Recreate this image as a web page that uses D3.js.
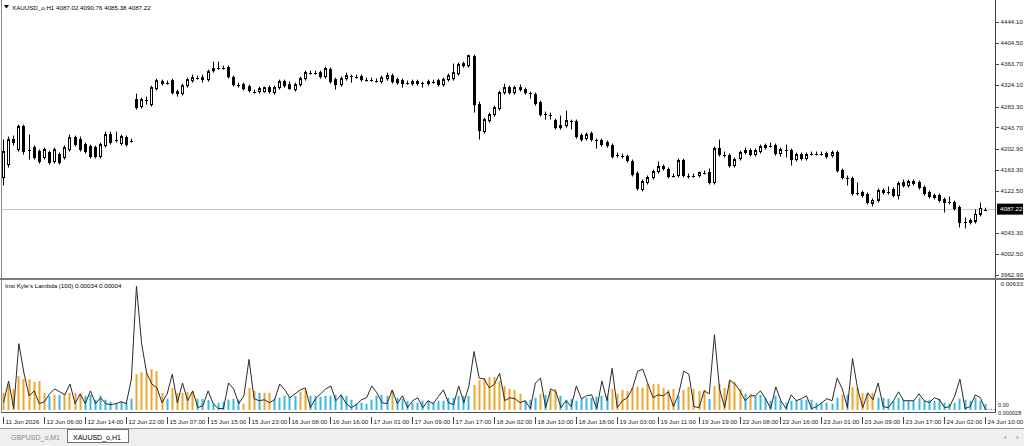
<!DOCTYPE html>
<html><head><meta charset="utf-8">
<script src="https://cdn.jsdelivr.net/npm/d3@7"></script>
<style>html,body{margin:0;padding:0;background:#fff;}svg{display:block;font-family:"Liberation Sans",Arial,sans-serif;}</style>
</head><body><svg id="c" width="1024" height="446"></svg>
<script>
// ---------- DATA ----------
const opens = [4148.3,4173.0,4220.5,4201.5,4245.2,4201.5,4205.3,4197.7,4186.3,4195.8,
4178.7,4192.0,4186.3,4201.5,4224.3,4220.5,4211.0,4207.2,4205.3,4188.2,
4209.1,4230.0,4220.5,4212.9,4224.3,4218.6,4296.5,4283.2,4296.5,4287.0,
4317.4,4330.7,4328.8,4332.6,4311.7,4307.9,4323.1,4332.6,4338.3,4338.3,
4334.5,4351.6,4357.3,4357.3,4357.3,4338.3,4325.0,4325.0,4321.2,4311.7,
4311.7,4311.7,4319.3,4309.8,4319.3,4330.7,4325.0,4315.5,4325.0,4336.4,
4347.8,4347.8,4347.8,4340.2,4353.5,4334.5,4325.0,4336.4,4342.1,4340.2,
4340.2,4334.5,4334.5,4332.6,4330.7,4336.4,4342.1,4334.5,4332.6,4328.8,
4326.9,4330.7,4328.8,4326.9,4330.7,4332.6,4325.0,4334.5,4336.4,4345.9,
4364.9,4361.1,4378.2,4287.0,4235.7,4256.6,4268.0,4279.4,4309.8,4319.3,
4309.8,4319.3,4315.5,4309.8,4306.0,4290.8,4269.9,4268.0,4256.6,4243.3,
4247.1,4256.6,4254.7,4228.1,4222.4,4231.9,4220.5,4218.6,4214.8,4209.1,
4192.0,4190.1,4188.2,4178.7,4155.9,4125.5,4138.8,4148.3,4159.7,4169.2,
4163.5,4152.1,4152.1,4180.6,4152.1,4152.1,4152.1,4157.8,4157.8,4138.8,
4203.4,4192.0,4190.1,4171.1,4184.4,4195.8,4199.6,4192.0,4197.7,4205.3,
4209.1,4209.1,4193.9,4201.5,4199.6,4182.5,4192.0,4184.4,4193.9,4193.9,
4193.9,4193.9,4190.1,4195.8,4161.6,4148.3,4146.4,4119.8,4119.8,4116.0,
4098.9,4104.6,4123.6,4121.7,4125.5,4114.1,4138.8,4133.1,4140.7,4138.8,
4129.3,4119.8,4114.1,4114.1,4106.5,4100.8,4100.8,4091.3,4062.8,4062.8,
4064.7,4078.0,4087.02];
const highs = [4220.5,4226.2,4228.1,4249.0,4249.0,4230.0,4209.1,4201.5,4205.3,4199.6,
4205.3,4195.8,4209.1,4230.0,4228.1,4226.2,4214.8,4211.0,4209.1,4214.8,
4235.7,4235.7,4235.7,4230.0,4228.1,4222.4,4307.9,4300.3,4302.2,4323.1,
4336.4,4334.5,4332.6,4336.4,4315.5,4326.9,4338.3,4344.0,4342.1,4344.0,
4353.5,4368.7,4368.7,4361.1,4361.1,4342.1,4328.8,4328.8,4325.0,4315.5,
4321.2,4321.2,4323.1,4323.1,4334.5,4334.5,4330.7,4328.8,4340.2,4351.6,
4351.6,4351.6,4351.6,4359.2,4357.3,4338.3,4340.2,4347.8,4344.0,4344.0,
4344.0,4338.3,4338.3,4336.4,4342.1,4347.8,4345.9,4338.3,4336.4,4332.6,
4334.5,4334.5,4330.7,4334.5,4334.5,4336.4,4338.3,4345.9,4364.9,4366.8,
4368.7,4382.0,4382.0,4292.7,4262.3,4271.8,4285.1,4313.6,4326.9,4323.1,
4323.1,4325.0,4319.3,4311.7,4309.8,4294.6,4273.7,4271.8,4260.4,4266.1,
4275.6,4258.5,4258.5,4231.9,4233.8,4235.7,4222.4,4222.4,4218.6,4212.9,
4195.8,4193.9,4192.0,4182.5,4159.7,4144.5,4152.1,4163.5,4178.7,4173.0,
4167.3,4155.9,4184.4,4184.4,4155.9,4155.9,4159.7,4161.6,4165.4,4207.2,
4220.5,4197.7,4193.9,4186.3,4199.6,4205.3,4203.4,4203.4,4211.0,4212.9,
4214.8,4212.9,4205.3,4211.0,4203.4,4195.8,4195.8,4195.8,4197.7,4197.7,
4197.7,4197.7,4199.6,4199.6,4165.4,4152.1,4150.2,4138.8,4123.6,4119.8,
4108.4,4127.4,4127.4,4131.2,4129.3,4140.7,4144.5,4144.5,4144.5,4142.6,
4133.1,4123.6,4117.9,4117.9,4110.3,4112.2,4104.6,4095.1,4072.3,4070.4,
4087.5,4100.8,4090.76];
const lows = [4133.1,4167.3,4209.1,4197.7,4192.0,4182.5,4182.5,4174.9,4182.5,4173.0,
4174.9,4173.0,4182.5,4197.7,4207.2,4197.7,4193.9,4184.4,4184.4,4184.4,
4205.3,4211.0,4214.8,4209.1,4207.2,4214.8,4277.5,4279.4,4287.0,4283.2,
4313.6,4323.1,4325.0,4306.0,4302.2,4304.1,4319.3,4328.8,4334.5,4328.8,
4330.7,4347.8,4353.5,4353.5,4336.4,4321.2,4319.3,4313.6,4309.8,4307.9,
4307.9,4309.8,4307.9,4306.0,4315.5,4319.3,4315.5,4311.7,4321.2,4332.6,
4344.0,4344.0,4336.4,4336.4,4326.9,4315.5,4321.2,4332.6,4328.8,4336.4,
4330.7,4330.7,4330.7,4328.8,4326.9,4332.6,4326.9,4325.0,4319.3,4325.0,
4323.1,4323.1,4319.3,4323.1,4326.9,4321.2,4321.2,4330.7,4332.6,4342.1,
4357.3,4357.3,4271.8,4220.5,4231.9,4252.8,4264.2,4275.6,4306.0,4306.0,
4306.0,4311.7,4306.0,4298.4,4285.1,4264.2,4258.5,4258.5,4239.5,4239.5,
4243.3,4239.5,4222.4,4216.7,4218.6,4216.7,4203.4,4207.2,4205.3,4184.4,
4186.3,4184.4,4176.8,4150.2,4123.6,4121.7,4135.0,4144.5,4155.9,4161.6,
4146.4,4148.3,4148.3,4148.3,4146.4,4148.3,4148.3,4154.0,4135.0,4135.0,
4188.2,4186.3,4167.3,4167.3,4180.6,4192.0,4188.2,4188.2,4193.9,4201.5,
4205.3,4190.1,4188.2,4186.3,4171.1,4178.7,4180.6,4180.6,4190.1,4190.1,
4190.1,4184.4,4186.3,4157.8,4144.5,4133.1,4114.1,4114.1,4110.3,4097.0,
4093.2,4100.8,4116.0,4116.0,4110.3,4106.5,4129.3,4129.3,4133.1,4125.5,
4114.1,4108.4,4106.5,4100.8,4081.8,4097.0,4085.6,4053.3,4051.4,4059.0,
4060.9,4074.2,4085.38];
const closes = [4197.7,4220.5,4214.8,4245.2,4197.7,4201.5,4186.3,4178.7,4201.5,4176.8,
4201.5,4176.8,4205.3,4224.3,4211.0,4201.5,4197.7,4188.2,4188.2,4211.0,
4230.0,4214.8,4220.5,4226.2,4211.0,4218.6,4281.3,4296.5,4296.5,4319.3,
4332.6,4326.9,4328.8,4309.8,4307.9,4323.1,4334.5,4338.3,4338.3,4334.5,
4349.7,4355.4,4357.3,4357.3,4340.2,4325.0,4325.0,4317.4,4313.6,4311.7,
4317.4,4319.3,4311.7,4319.3,4330.7,4323.1,4317.4,4325.0,4336.4,4347.8,
4347.8,4347.8,4340.2,4355.4,4330.7,4325.0,4336.4,4342.1,4342.1,4340.2,
4334.5,4334.5,4334.5,4332.6,4338.3,4342.1,4330.7,4328.8,4326.9,4328.8,
4330.7,4326.9,4328.8,4330.7,4330.7,4325.0,4334.5,4342.1,4347.8,4363.0,
4361.1,4380.1,4287.0,4237.6,4258.5,4268.0,4281.3,4309.8,4319.3,4309.8,
4319.3,4315.5,4309.8,4309.8,4288.9,4268.0,4269.9,4268.0,4243.3,4247.1,
4256.6,4256.6,4226.2,4220.5,4230.0,4220.5,4220.5,4211.0,4209.1,4188.2,
4192.0,4190.1,4180.6,4154.0,4127.4,4140.7,4148.3,4159.7,4169.2,4165.4,
4150.2,4152.1,4180.6,4152.1,4152.1,4152.1,4157.8,4157.8,4138.8,4203.4,
4192.0,4192.0,4171.1,4182.5,4195.8,4199.6,4192.0,4199.6,4207.2,4209.1,
4209.1,4193.9,4201.5,4201.5,4182.5,4192.0,4184.4,4192.0,4193.9,4193.9,
4193.9,4188.2,4195.8,4161.6,4148.3,4148.3,4117.9,4119.8,4114.1,4100.8,
4104.6,4123.6,4119.8,4121.7,4114.1,4136.9,4133.1,4140.7,4136.9,4129.3,
4117.9,4112.2,4110.3,4104.6,4100.8,4100.8,4089.4,4062.8,4062.8,4066.6,
4078.0,4089.4,4087.22];

// indicator values, in units of 0.00001
const lambdaHist = [90,130,110,175,160,160,145,150,90,75,
80,80,85,90,90,85,75,80,55,75,
55,45,35,45,40,60,185,195,190,210,
200,90,60,115,90,90,95,95,60,60,
55,35,40,45,55,60,55,35,115,100,
90,90,90,60,65,75,70,75,95,105,
75,75,70,75,75,80,75,75,55,35,
40,35,55,75,80,75,100,65,60,50,
40,40,50,50,40,50,50,65,65,75,
75,75,130,155,165,170,170,150,125,110,
105,85,50,55,65,85,80,100,110,75,
55,60,50,60,65,65,70,75,75,110,
85,105,100,115,120,115,135,135,135,115,
105,110,75,105,120,110,100,105,60,125,
135,115,150,145,110,85,85,75,80,65,
50,75,50,40,50,55,55,55,55,40,
40,40,35,65,80,80,120,115,90,85,
90,65,65,60,50,65,55,50,50,65,
50,55,50,60,40,35,40,60,55,50,
65,50,34];
const histSide = ("ooooooooob"+"oboooobbbb"+"bbbbbboooo"+"oobooooobb"+"bbbbbbbooo"+
"boobbbbboo"+"bbbbbbbbbb"+"bbbbbbobbb"+"bbbbbbbbbb"+"bboooooooo"+
"oobbboboob"+"bbbbbbbbbo"+"oooooooooo"+"oobooooobo"+"ooooobobbb"+
"bbbbbbbbbb"+"bbbboboooo"+"obbbbbbbbb"+"bbbbbbbbbb"+"bbb").split("");
const lambdaLine = [40,150,10,340,190,75,100,35,45,85,
110,95,80,135,35,85,35,100,35,65,
35,30,35,45,35,160,633,340,190,135,
115,40,85,185,40,140,50,100,15,25,
100,35,10,10,140,110,35,75,260,60,
50,55,40,55,135,105,65,85,105,115,
15,60,85,110,125,50,80,35,15,30,
55,65,125,90,40,35,105,35,75,15,
50,65,15,50,35,70,105,40,30,125,
40,125,300,165,160,115,135,190,50,65,
60,40,50,10,140,165,15,110,95,15,
50,20,125,60,75,80,10,150,50,215,
15,50,65,115,200,210,135,65,80,75,
95,20,85,200,185,20,15,100,85,385,
110,15,155,135,100,50,75,75,100,60,
10,120,50,10,80,50,60,75,10,20,
40,60,50,165,110,15,265,110,15,90,
55,140,20,15,50,95,50,50,50,85,
50,40,65,55,15,20,75,160,10,20,
80,65,4];

const priceTicks = [4444.10,4404.50,4363.70,4324.10,4283.30,4243.70,4202.90,4163.30,4122.50,4043.30,4002.50,3962.90];
const timeLabels = ["11 Jun 2026","12 Jun 06:00","12 Jun 14:00","12 Jun 22:00","15 Jun 07:00","15 Jun 15:00","15 Jun 23:00","16 Jun 08:00","16 Jun 16:00","17 Jun 01:00","17 Jun 09:00","17 Jun 17:00","18 Jun 02:00","18 Jun 10:00","18 Jun 18:00","19 Jun 03:00","19 Jun 11:00","19 Jun 19:00","22 Jun 08:00","22 Jun 16:00","23 Jun 01:00","23 Jun 09:00","23 Jun 17:00","24 Jun 02:00","24 Jun 10:00"];
const labelEvery = 8;
const symbol = "XAUUSD_o,H1";
const lastQuote = [4087.02,4090.76,4085.38,4087.22];
const indName = "Inst Kyle's Lambda (100)";
const indLast = ["0.00034","0.00004"];
const indMax = 0.00633, indMin = 0.000028;
const tabs = ["GBPUSD_o,M1","XAUUSD_o,H1"];

// ---------- DRAW ----------
const svg = d3.select("#c");
const n = opens.length;
const x = d3.scaleLinear().domain([0, n-1]).range([3, 985]);
const y = d3.scaleLinear().domain([3962.90, 4444.10]).range([275.0, 22.0]);
const yi = d3.scaleLinear().domain([indMin*1e5, indMax*1e5]).range([410, 286]);
const FS = 6.2;
const px = v => Math.round(v) + 0.5;

svg.append("rect").attr("width",1024).attr("height",446).attr("fill","#fff");

// current price line
svg.append("line").attr("x1",2).attr("x2",995).attr("y1",px(y(lastQuote[3]))-1).attr("y2",px(y(lastQuote[3]))-1)
  .attr("stroke","#c8c8c8").attr("stroke-width",1);

// candles
const cg = svg.append("g");
d3.range(n).forEach(i => {
  const cx = Math.round(x(i));
  const o = opens[i], c = closes[i];
  cg.append("line").attr("x1",cx+0.5).attr("x2",cx+0.5)
    .attr("y1",y(highs[i])).attr("y2",y(lows[i])).attr("stroke","#000").attr("stroke-width",1);
  const top = y(Math.max(o,c)), bot = y(Math.min(o,c));
  if (bot - top < 1) {
    cg.append("line").attr("x1",cx-1).attr("x2",cx+2).attr("y1",px(top)).attr("y2",px(top))
      .attr("stroke","#000").attr("stroke-width",1);
  } else if (c >= o) {
    cg.append("rect").attr("x",cx-1+0.5).attr("y",top).attr("width",2).attr("height",bot-top)
      .attr("fill","#fff").attr("stroke","#000").attr("stroke-width",1);
  } else {
    cg.append("rect").attr("x",cx-1).attr("y",top-0.5).attr("width",3).attr("height",bot-top+1)
      .attr("fill","#000");
  }
});

// indicator histogram
const hg = svg.append("g");
d3.range(n).forEach(i => {
  const cx = Math.round(x(i));
  const yt = yi(lambdaHist[i]);
  hg.append("rect").attr("x",cx-0.5).attr("y",yt).attr("width",2).attr("height",Math.max(0,410-yt))
    .attr("fill", histSide[i]==="o" ? "#f0a52c" : "#3ab7e2");
});
// indicator line
svg.append("path").datum(lambdaLine)
  .attr("d", d3.line().x((d,i)=>x(i)+0.5).y(d=>yi(d)))
  .attr("fill","none").attr("stroke","#2a2a2a").attr("stroke-width",1);
svg.append("line").attr("x1",986).attr("x2",995).attr("y1",409.5).attr("y2",409.5)
  .attr("stroke","#666").attr("stroke-dasharray","1,1.5");

// frames
svg.append("line").attr("x1",1.5).attr("x2",1.5).attr("y1",0).attr("y2",413).attr("stroke","#8a8a8a");
svg.append("line").attr("x1",995.5).attr("x2",995.5).attr("y1",0).attr("y2",413).attr("stroke","#444");
svg.append("rect").attr("x",0).attr("y",278).attr("width",1024).attr("height",2).attr("fill","#7a7a7a");
svg.append("line").attr("x1",1.5).attr("x2",995.5).attr("y1",412.5).attr("y2",412.5).attr("stroke","#555");

// price axis
const pa = svg.append("g");
priceTicks.forEach(t => {
  const yy = y(t);
  pa.append("line").attr("x1",996).attr("x2",999).attr("y1",px(yy)).attr("y2",px(yy)).attr("stroke","#444");
  pa.append("text").attr("x",1000.5).attr("y",yy).attr("dy","0.35em").attr("font-size",FS).attr("fill","#222").text(t.toFixed(2));
});
const ly = y(lastQuote[3]) - 0.5;
pa.append("rect").attr("x",997).attr("y",ly-5.5).attr("width",26).attr("height",11).attr("fill","#000");
pa.append("text").attr("x",1000).attr("y",ly).attr("dy","0.35em").attr("font-size",FS).attr("fill","#fff").text(lastQuote[3].toFixed(2));

// indicator axis
pa.append("text").attr("x",1000.5).attr("y",284).attr("dy","0.35em").attr("font-size",FS).attr("fill","#222").text(indMax.toFixed(5));
pa.append("text").attr("x",998).attr("y",405.5).attr("dy","0.35em").attr("font-size",5.6).attr("fill","#222").text("0.00");
pa.append("text").attr("x",998).attr("y",413).attr("dy","0.35em").attr("font-size",5.6).attr("fill","#222").text(indMin.toFixed(6));

// time axis
const ta = svg.append("g");
timeLabels.forEach((lab,k) => {
  const xx = Math.round(x(k*labelEvery));
  ta.append("line").attr("x1",xx+0.5).attr("x2",xx+0.5).attr("y1",417).attr("y2",424).attr("stroke","#444");
  ta.append("text").attr("x",xx+2.5).attr("y",424).attr("font-size",FS).attr("fill","#222").text(lab);
});

// titles
svg.append("path").attr("d","M4,5 L9,5 L6.5,8.5 Z").attr("fill","#000");
svg.append("text").attr("x",12).attr("y",10).attr("font-size",FS).attr("fill","#000")
  .text(symbol + "  " + lastQuote.map(v=>v.toFixed(2)).join(" "));
svg.append("text").attr("x",5).attr("y",288).attr("font-size",FS).attr("fill","#000")
  .text(indName + " " + indLast.join(" "));

// tab bar
svg.append("rect").attr("x",0).attr("y",428).attr("width",1024).attr("height",18).attr("fill","#efefef");
svg.append("line").attr("x1",0).attr("x2",1024).attr("y1",428.5).attr("y2",428.5).attr("stroke","#9a9a9a");
svg.append("rect").attr("x",67.5).attr("y",429.5).attr("width",61).attr("height",13).attr("fill","#fff").attr("stroke","#707070");
svg.append("text").attr("x",11).attr("y",439.5).attr("font-size",7).attr("fill","#8a8a8a").text(tabs[0]);
svg.append("text").attr("x",73).attr("y",439.5).attr("font-size",7).attr("fill","#000").text(tabs[1]);
svg.append("text").attr("x",1004).attr("y",440).attr("font-size",8).attr("fill","#777").text("‹");
svg.append("text").attr("x",1016).attr("y",440).attr("font-size",8).attr("fill","#777").text("›");
</script></body></html>
